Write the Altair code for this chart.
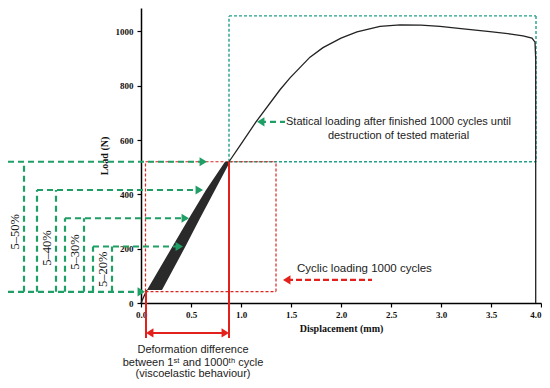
import altair as alt
import pandas as pd

# ---- main load-displacement curve (after cycling) ----
curve_x = [0.88, 1.00, 1.15, 1.39, 1.49, 1.69, 1.82, 2.00, 2.16, 2.39, 2.59, 2.80, 2.99, 3.20, 3.49, 3.70, 3.82, 3.91, 3.94, 3.947, 3.947]
curve_y = [520, 585, 667, 785, 829, 905, 940, 975, 998, 1018, 1024, 1023, 1018, 1010, 999, 990, 983, 975, 960, 900, 0]
start_x = [0.0, 0.03, 0.06]
start_y = [0, 25, 48]

# ---- cyclic band (1000 hysteresis loops) ----
band_y = [48, 205, 312, 416, 520]
band_left = [0.06, 0.31, 0.48, 0.65, 0.84]
band_right = [0.21, 0.44, 0.59, 0.74, 0.89]

# ---- annotation segments: (x1, y1, x2, y2) ----
green_segs = [
    (-1.33, 520, 0.64, 520), (-1.33, 41, 0.02, 41), (-1.17, 41, -1.17, 520),
    (-1.04, 416, 0.60, 416), (-1.04, 41, -1.04, 416), (-0.85, 41, -0.85, 416),
    (-0.76, 312, 0.46, 312), (-0.76, 41, -0.76, 312), (-0.57, 41, -0.57, 312),
    (-0.48, 208, 0.40, 208), (-0.48, 41, -0.48, 208), (-0.29, 41, -0.29, 208),
    (1.19, 667, 1.44, 667),
]
teal_segs = [
    (0.88, 520, 0.88, 1057), (0.88, 1057, 3.95, 1057),
    (3.95, 1057, 3.95, 520), (0.88, 520, 3.95, 520),
]
red_dash_segs = [
    (0.045, 42, 1.35, 42), (1.35, 42, 1.35, 520),
    (0.045, 520, 1.35, 520), (0.045, 42, 0.045, 520),
]
red_solid_segs = [
    (0.05, 45, 0.05, -129), (0.88, 520, 0.88, -129), (0.08, -110, 0.85, -110),
]
red_thick_dash_segs = [(1.46, 85, 2.31, 85)]

# arrow tips: x, y, direction, colour group
tip_x = [0.66, 0.04, 0.62, 0.48, 0.42, 1.16, 0.05, 0.88, 1.42]
tip_y = [520, 41, 416, 312, 208, 667, -110, -110, 85]
tip_dir = ["R", "R", "R", "R", "R", "L", "L", "R", "L"]
tip_col = ["g", "g", "g", "g", "g", "g", "r", "r", "r"]

# ---- labels ----
pct_labels = ["5–50%", "5–40%", "5–30%", "5–20%"]
pct_x = [-1.265, -0.94, -0.665, -0.385]
pct_y = [262, 202, 188, 124]

note_text = [
    "Statical loading after finished 1000 cycles until",
    "destruction of tested material",
    "Cyclic loading 1000 cycles",
    "Deformation difference",
    "between 1ˢᵗ and 1000ᵗʰ cycle",
    "(viscoelastic behaviour)",
]
note_x = [2.575, 2.575, 1.56, 0.52, 0.52, 0.52]
note_y = [667, 615, 124, -174, -222, -262]
note_align = ["center", "center", "left", "center", "center", "center"]

x_ticks = [0, 0.5, 1.0, 1.5, 2.0, 2.5, 3.0, 3.5, 4.0]
y_ticks = [0, 200, 400, 600, 800, 1000]

GREEN = "#1f9f66"
TEAL = "#22a08a"
RED = "#e3211c"
DRED = "#d9261f"

xs = alt.Scale(domain=[0, 4], nice=False, zero=False)
ys = alt.Scale(domain=[0, 1086], nice=False, zero=False)
XAX = alt.Axis(values=x_ticks, format=".1f", grid=False, tickSize=4,
               labelPadding=3, titlePadding=4,
               labelAlign=alt.condition("datum.value >= 4", alt.value("right"), alt.value("center")))
YAX = alt.Axis(values=y_ticks, format="d", grid=False, tickSize=4,
               labelPadding=4, titlePadding=6)


def X(field):
    return alt.X(field, scale=xs, axis=XAX, title="Displacement (mm)")


def Y(field):
    return alt.Y(field, scale=ys, axis=YAX, title="Load (N)")


def seg_df(segs):
    return pd.DataFrame(segs, columns=["x", "y", "x2", "y2"])


def seg_layer(segs, color, width, dash=None):
    kw = dict(color=color, strokeWidth=width)
    if dash:
        kw["strokeDash"] = dash
    return alt.Chart(seg_df(segs)).mark_rule(**kw).encode(
        x=X("x:Q"), x2="x2:Q", y=Y("y:Q"), y2="y2:Q",
    )


band = alt.Chart(pd.DataFrame({"y": band_y, "xl": band_left, "xr": band_right})).mark_area(
    orient="horizontal", color="#2a2a2a"
).encode(y=Y("y:Q"), x=X("xl:Q"), x2="xr:Q")

curve = alt.Chart(pd.DataFrame({"x": curve_x, "y": curve_y, "i": range(len(curve_x))})).mark_line(
    color="#222222", strokeWidth=1.3
).encode(x=X("x:Q"), y=Y("y:Q"), order="i:Q")

start = alt.Chart(pd.DataFrame({"x": start_x, "y": start_y, "i": range(len(start_x))})).mark_line(
    color="#222222", strokeWidth=1.3
).encode(x=X("x:Q"), y=Y("y:Q"), order="i:Q")

tips = pd.DataFrame({"x": tip_x, "y": tip_y, "d": tip_dir, "c": tip_col})
RIGHT = "M0,0L-1,-0.62L-1,0.62Z"
LEFT = "M0,0L1,-0.62L1,0.62Z"
tip_layer = alt.Chart(tips).mark_point(filled=True, opacity=1, size=220, strokeWidth=0).encode(
    x=X("x:Q"), y=Y("y:Q"),
    shape=alt.Shape("d:N", scale=alt.Scale(domain=["R", "L"], range=[RIGHT, LEFT]), legend=None),
    color=alt.Color("c:N", scale=alt.Scale(domain=["g", "r"], range=[GREEN, RED]), legend=None),
)

pct = alt.Chart(pd.DataFrame({"t": pct_labels, "x": pct_x, "y": pct_y})).mark_text(
    angle=270, font="Liberation Serif", fontSize=12.5, color="#111111", baseline="middle", align="center"
).encode(x=X("x:Q"), y=Y("y:Q"), text="t:N")

notes_df = pd.DataFrame({"t": note_text, "x": note_x, "y": note_y, "a": note_align})
notes_c = alt.Chart(notes_df[notes_df.a == "center"]).mark_text(
    font="Liberation Sans", fontSize=11, color="#222222", baseline="middle", align="center"
).encode(x=X("x:Q"), y=Y("y:Q"), text="t:N")
notes_l = alt.Chart(notes_df[notes_df.a == "left"]).mark_text(
    font="Liberation Sans", fontSize=11.5, color="#222222", baseline="middle", align="left"
).encode(x=X("x:Q"), y=Y("y:Q"), text="t:N")

chart = alt.layer(
    seg_layer(teal_segs, TEAL, 1.4, [3, 2]),
    seg_layer(red_dash_segs, DRED, 1.2, [3, 2]),
    band,
    start,
    curve,
    seg_layer(green_segs, GREEN, 2.2, [6, 4]),
    seg_layer(red_solid_segs, RED, 2),
    seg_layer(red_thick_dash_segs, RED, 2.4, [6, 3]),
    tip_layer,
    pct,
    notes_c,
    notes_l,
).properties(
    width=400,
    height=295,
    autosize=alt.AutoSizeParams(type="none"),
    padding={"left": 133, "top": 0, "right": 1, "bottom": 77},
).configure_view(
    stroke=None
).configure_axis(
    domainColor="#000000",
    domainWidth=1.5,
    tickColor="#000000",
    tickWidth=1.2,
    labelFont="Liberation Serif",
    labelFontWeight="bold",
    labelFontSize=9,
    labelColor="#111111",
    titleFont="Liberation Serif",
    titleFontWeight="bold",
    titleFontSize=10,
    titleColor="#111111",
)

chart.save("out.html", embed_options={"renderer": "svg", "actions": False})
